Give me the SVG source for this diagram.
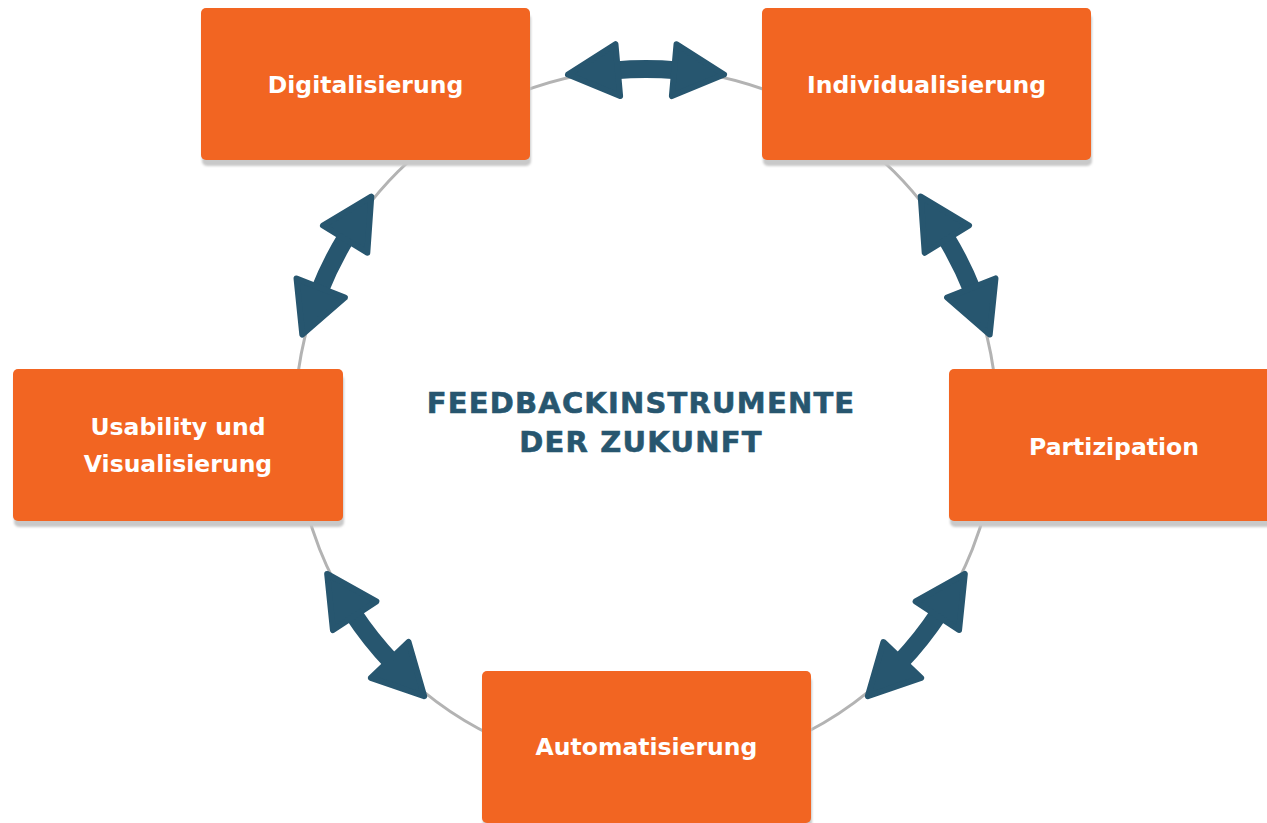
<svg xmlns="http://www.w3.org/2000/svg" width="1267" height="823" viewBox="0 0 1267 823">
  <style>
    .box { fill: #F26522; }
    .shadow { fill: #c9c9c9; }
    .lbl { font-family: "DejaVu Sans", "Liberation Sans", sans-serif; font-weight: bold; font-size: 23.5px; fill: #ffffff; text-anchor: middle; }
    .title { font-family: "DejaVu Sans", "Liberation Sans", sans-serif; font-weight: bold; font-size: 29px; letter-spacing: 1.2px; fill: #27566F; stroke: #27566F; stroke-width: 0.6; text-anchor: middle; }
    .ring { fill: none; stroke: #b3b3b3; stroke-width: 3; }
    .shaft { fill: none; stroke: #27566F; stroke-width: 18; marker-start: url(#head); marker-end: url(#head); }
  </style>
  <defs>
    <filter id="blur" x="-5%" y="-5%" width="110%" height="120%">
      <feGaussianBlur stdDeviation="1.2"/>
    </filter>
    <marker id="head" markerUnits="userSpaceOnUse" markerWidth="60" markerHeight="60" refX="0" refY="0" orient="auto-start-reverse" overflow="visible">
      <path d="M-3,-26 L47,0 L-3,26 Z" fill="#27566F" stroke="#27566F" stroke-width="6" stroke-linejoin="round"/>
    </marker>
  </defs>
  <rect width="1267" height="823" fill="#ffffff"/>

  <circle class="ring" cx="646" cy="420" r="351"/>

  <g id="connectors">
    <path class="shaft" d="M614.8,70.4 A351,351 0 0 1 677.2,70.4"/>
    <path class="shaft" d="M346.7,236.6 A351,351 0 0 0 319.6,290.8"/>
    <path class="shaft" d="M945.3,236.6 A351,351 0 0 1 972.4,290.8"/>
    <path class="shaft" d="M353.0,613.2 A351,351 0 0 0 391.8,662.1"/>
    <path class="shaft" d="M939.0,613.2 A351,351 0 0 1 900.2,662.1"/>
  </g>

  <g id="digitalisierung">
    <rect class="shadow" x="202" y="14" width="329" height="152" rx="5" filter="url(#blur)"/>
    <rect class="box" x="201" y="8" width="329" height="152" rx="5"/>
    <text class="lbl" x="365.5" y="93">Digitalisierung</text>
  </g>

  <g id="individualisierung">
    <rect class="shadow" x="763" y="14" width="329" height="152" rx="5" filter="url(#blur)"/>
    <rect class="box" x="762" y="8" width="329" height="152" rx="5"/>
    <text class="lbl" x="926.5" y="93">Individualisierung</text>
  </g>

  <g id="usability">
    <rect class="shadow" x="14" y="375" width="330" height="152" rx="5" filter="url(#blur)"/>
    <rect class="box" x="13" y="369" width="330" height="152" rx="5"/>
    <text class="lbl" x="178" y="435">Usability und</text>
    <text class="lbl" x="178" y="472">Visualisierung</text>
  </g>

  <g id="partizipation">
    <rect class="shadow" x="950" y="375" width="330" height="152" rx="5" filter="url(#blur)"/>
    <rect class="box" x="949" y="369" width="330" height="152" rx="5"/>
    <text class="lbl" x="1114" y="455">Partizipation</text>
  </g>

  <g id="automatisierung">
    <rect class="shadow" x="483" y="677" width="329" height="152" rx="5" filter="url(#blur)"/>
    <rect class="box" x="482" y="671" width="329" height="152" rx="5"/>
    <text class="lbl" x="646.5" y="755">Automatisierung</text>
  </g>

  <g id="title">
    <text class="title" x="641" y="413">FEEDBACKINSTRUMENTE</text>
    <text class="title" x="641" y="452">DER ZUKUNFT</text>
  </g>
</svg>
